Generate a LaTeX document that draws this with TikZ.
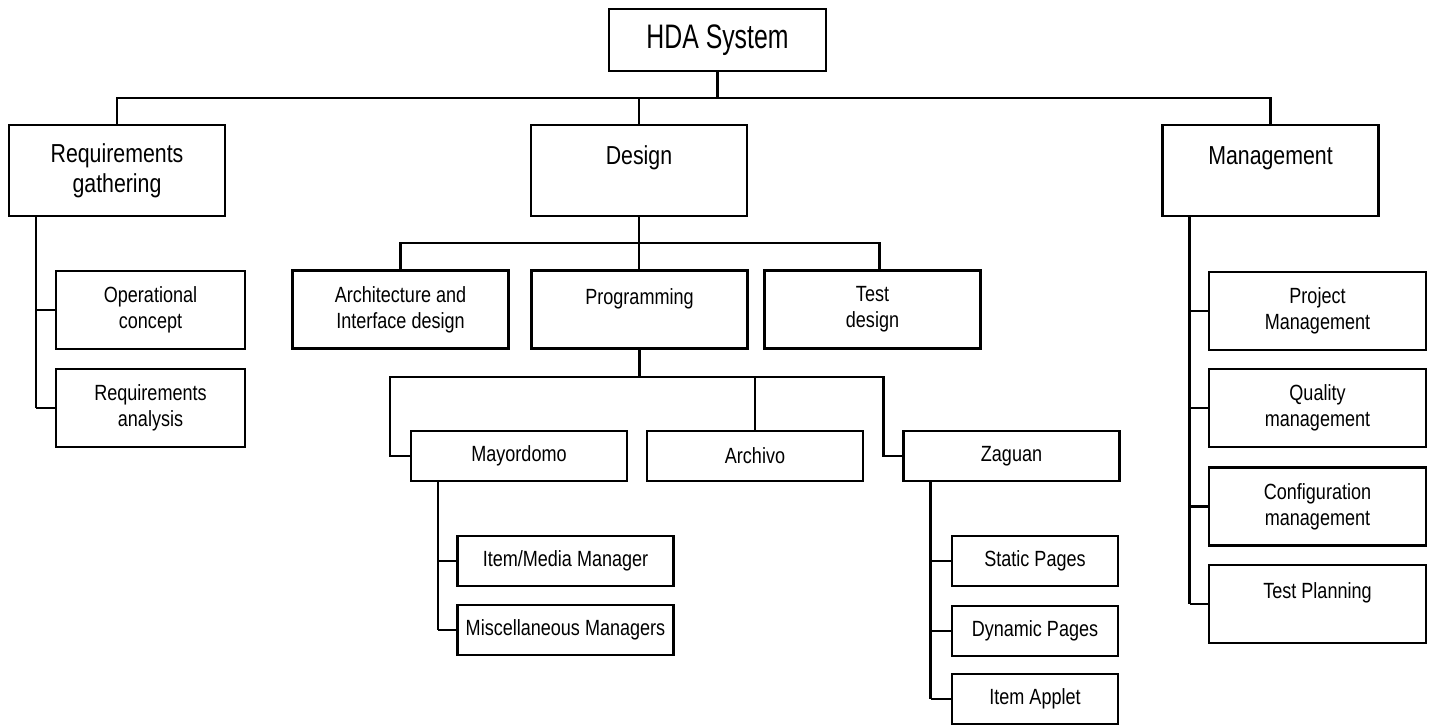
\documentclass[tikz,border=0pt]{standalone}
\usepackage{fontspec}
\setmainfont[FakeStretch=0.82]{Liberation Sans}
\newfontfamily\rootfont[FakeStretch=0.73]{Liberation Sans}
\usetikzlibrary{positioning}

\begin{document}
\begin{tikzpicture}[x=1pt, y=-1pt,
  box/.style={draw, line width=2.2pt, inner sep=0pt, align=center},
  rootbox/.style={box, minimum width=217pt, minimum height=62pt, font=\rootfont\fontsize{34}{40}\selectfont},
  headbox/.style={box, minimum width=216pt, minimum height=91pt, font=\fontsize{26}{30}\selectfont},
  taskbox/.style={box, minimum width=#1, minimum height=78pt, font=\fontsize{22}{26}\selectfont},
  taskbox/.default=216pt,
  leafbox/.style={box, minimum width=#1, minimum height=50pt, font=\fontsize{22}{26}\selectfont},
  leafbox/.default=216pt,
  link/.style={line width=2.2pt},
]
  \useasboundingbox (0,0) rectangle (1430,724);

  \node[rootbox] (hda) at (717.5,40) {HDA System};

  \node[headbox] (req) at (117,170.5) {Requirements\\gathering};
  \node[headbox] (design) at (639,170.5) {Design\\~};
  \node[headbox] (mgmt) at (1270.5,170.5) {Management\\~};

  \node[taskbox=189pt] (opcon) at (150.5,310) {Operational\\concept};
  \node[taskbox=189pt] (reqan) at (150.5,408) {Requirements\\analysis};

  \node[taskbox] (arch) at (400.5,309.5) {Architecture and\\Interface design};
  \node[taskbox] (prog) at (639.5,309.5) {Programming\\~};
  \node[taskbox] (testd) at (872.5,309.5) {Test\\design};

  \node[leafbox] (mayor) at (519,456) {Mayordomo};
  \node[leafbox] (archivo) at (755,456) {Archivo};
  \node[leafbox] (zaguan) at (1011.5,456) {Zaguan};

  \node[leafbox] (itemmgr) at (565.5,561) {Item/Media Manager};
  \node[leafbox] (miscmgr) at (565.5,630) {Miscellaneous Managers};

  \node[leafbox=166pt] (static) at (1035,561) {Static Pages};
  \node[leafbox=166pt] (dynamic) at (1035,631) {Dynamic Pages};
  \node[leafbox=166pt] (applet) at (1035,699) {Item Applet};

  \node[taskbox=217pt] (projmgmt) at (1317.5,311) {Project\\Management};
  \node[taskbox=217pt] (quality) at (1317.5,408) {Quality\\management};
  \node[taskbox=217pt] (config) at (1317.5,506.5) {Configuration\\management};
  \node[taskbox=217pt] (testplan) at (1317.5,604) {Test Planning\\~};

  % top level
  \coordinate (topbus) at (717.5,98);
  \draw[link] (hda) -- (topbus);
  \draw[link] (req.north) |- (topbus) -| (mgmt.north);
  \draw[link] (design.north) -- (design.north |- topbus);

  % design
  \coordinate (designbus) at (639,243);
  \draw[link] (design.south) -- (design.south |- prog.north);
  \draw[link] (arch.north) |- (designbus) -| ([xshift=7pt]testd.north);

  % programming
  \coordinate (progbus) at (639,377);
  \draw[link] (prog.south) -- (prog.south |- progbus);
  \draw[link] (mayor.west) -- ++(-20,0) |- (progbus) -| ([xshift=-19pt]zaguan.west) -- (zaguan.west);
  \draw[link] (archivo.north) -- (archivo.north |- progbus);

  % side stems
  \coordinate (reqstem) at ([xshift=-81pt]req.south);
  \coordinate (mayorstem) at ([xshift=-81pt]mayor.south);
  \coordinate (zaguanstem) at ([xshift=-81pt]zaguan.south);
  \coordinate (mgmtstem) at ([xshift=-81pt]mgmt.south);

  \draw[link] (reqstem) -- (reqstem |- reqan.west);
  \foreach \c in {opcon, reqan}
    \draw[link] (reqstem |- \c.west) -- (\c.west);

  \draw[link] (mayorstem) -- (mayorstem |- miscmgr.west);
  \foreach \c in {itemmgr, miscmgr}
    \draw[link] (mayorstem |- \c.west) -- (\c.west);

  \draw[link] (zaguanstem) -- (zaguanstem |- applet.west);
  \foreach \c in {static, dynamic, applet}
    \draw[link] (zaguanstem |- \c.west) -- (\c.west);

  \draw[link] (mgmtstem) -- (mgmtstem |- testplan.west);
  \foreach \c in {projmgmt, quality, config, testplan}
    \draw[link] (mgmtstem |- \c.west) -- (\c.west);
\end{tikzpicture}
\end{document}
